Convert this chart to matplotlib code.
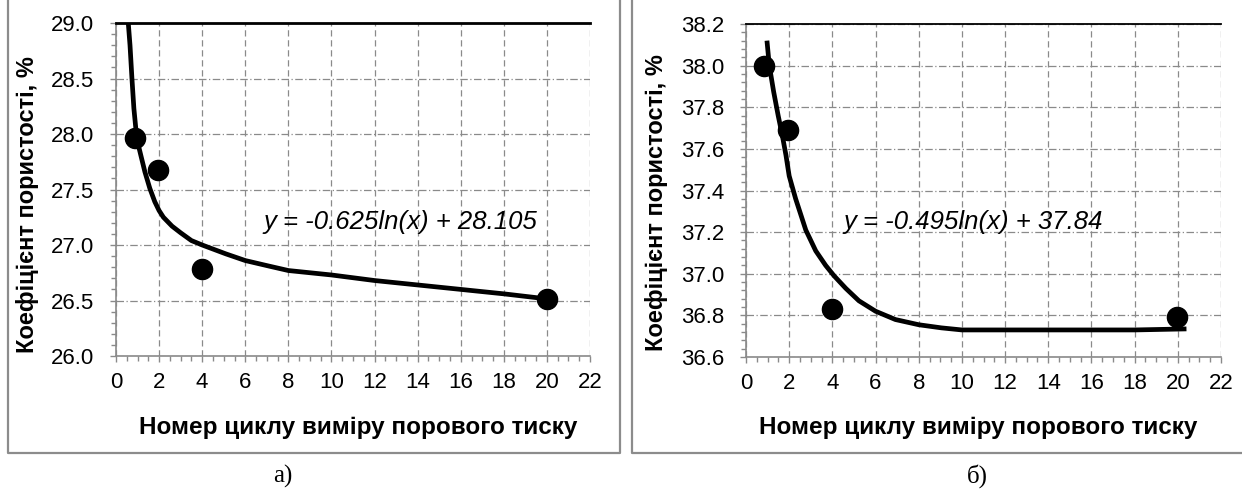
import numpy as np
import matplotlib.pyplot as plt
from matplotlib.lines import Line2D
from matplotlib.ticker import MultipleLocator

plt.rcParams['font.family'] = ['Liberation Sans', 'DejaVu Sans']

# а) вимірювані точки
x_a = [0.9, 1.97, 3.97, 20.0]
y_a = [27.96, 27.68, 26.78, 26.51]
# лінія тренду
trend_x_a = [0.57, 0.65, 0.74, 0.83, 0.92, 1.0, 1.15, 1.34, 1.57, 1.8, 2.0, 2.2, 2.6,
             3.0, 3.5, 4.0, 5.1, 6.0, 7.1, 8.0, 10.0, 12.0, 14.0, 16.0, 18.0, 20.2]
trend_y_a = [29.0, 28.8, 28.5, 28.23, 28.05, 27.93, 27.81, 27.66, 27.51, 27.39, 27.31, 27.25, 27.17,
             27.11, 27.04, 27.0, 26.92, 26.86, 26.81, 26.77, 26.73, 26.68, 26.64, 26.6, 26.56, 26.51]
eq_a = 'y = -0.625ln(x) + 28.105'

# б)
x_b = [0.85, 1.95, 4.0, 19.98]
y_b = [38.0, 37.69, 36.83, 36.79]
trend_x_b = [0.97, 1.08, 1.28, 1.49, 1.69, 1.85, 2.0, 2.3, 2.77, 3.23, 3.69, 4.08,
             4.62, 5.23, 6.0, 6.92, 8.0, 9.05, 10.0, 12.0, 14.0, 16.0, 18.0, 20.4]
trend_y_b = [38.12, 38.0, 37.875, 37.76, 37.66, 37.57, 37.47, 37.36, 37.21, 37.11, 37.04, 36.99,
             36.93, 36.87, 36.82, 36.78, 36.755, 36.74, 36.73, 36.73, 36.73, 36.73, 36.73, 36.735]
eq_b = 'y = -0.495ln(x) + 37.84'

xlabel = 'Номер циклу виміру порового тиску'
ylabel = 'Коефіцієнт пористості, %'

W, H = 1242, 490
fig = plt.figure(figsize=(W / 100, H / 100), dpi=100)


def px(x, y):
    return x / W, 1 - y / H


def setup_axes(rect, ylim, ymajor, yminor):
    ax = fig.add_axes(rect)
    ax.set_xlim(0, 22)
    ax.set_ylim(*ylim)
    ax.xaxis.set_major_locator(MultipleLocator(2))
    ax.xaxis.set_minor_locator(MultipleLocator(0.5))
    ax.yaxis.set_major_locator(MultipleLocator(ymajor))
    ax.yaxis.set_minor_locator(MultipleLocator(yminor))
    ax.yaxis.set_major_formatter(lambda v, p: f'{v:.1f}')
    ax.grid(axis='x', which='major', color='#8a8a8a', linestyle=(0, (5, 3)), linewidth=0.9)
    ax.grid(axis='y', which='major', color='#8a8a8a', linestyle=(0, (6, 2, 1, 2)), linewidth=0.9)
    ax.spines['right'].set_visible(False)
    ax.spines['top'].set_color('black')
    for s in ('left', 'bottom'):
        ax.spines[s].set_color('#8a8a8a')
        ax.spines[s].set_linewidth(1.2)
    ax.tick_params(which='both', direction='out', color='#8a8a8a', width=1.0)
    ax.tick_params(which='major', length=4.5, labelsize=16)
    ax.tick_params(which='minor', length=3.5)
    ax.tick_params(axis='x', pad=7)
    ax.tick_params(axis='y', pad=11)
    return ax


ax1 = setup_axes([116 / W, 1 - 356 / H, 474 / W, 333 / H], (26.0, 29.0), 0.5, 0.1)
ax1.spines['top'].set_linewidth(2.0)
ax1.plot(trend_x_a, trend_y_a, color='black', linewidth=3.4, solid_capstyle='butt',
         solid_joinstyle='round', zorder=3)
ax1.plot(x_a, y_a, 'o', color='black', markersize=14.5, zorder=4, clip_on=False)

ax2 = setup_axes([746 / W, 1 - 357 / H, 475 / W, 333 / H], (36.6, 38.2), 0.2, 0.04)
ax2.spines['top'].set_linewidth(1.3)
ax2.plot(trend_x_b, trend_y_b, color='black', linewidth=3.4, solid_capstyle='butt',
         solid_joinstyle='round', zorder=3)
ax2.plot(x_b, y_b, 'o', color='black', markersize=14.5, zorder=4, clip_on=False)

# рівняння трендів
fig.text(*px(400, 222), eq_a, fontsize=18.5, style='italic', ha='center', va='center')
fig.text(*px(973, 222), eq_b, fontsize=18.5, style='italic', ha='center', va='center')

# підписи осей
for cx, cy in ((28, 205), (656, 203)):
    fig.text(*px(cx, cy), ylabel, rotation=90, fontsize=17, fontweight='bold',
             ha='center', va='center')
for cx in (358, 978):
    fig.text(*px(cx, 427), xlabel, fontsize=17.5, fontweight='bold', ha='center', va='center')

# рамки панелей
frame = dict(color='#8c8c8c', linewidth=1.6, transform=fig.transFigure)
fig.add_artist(Line2D([8 / W, 8 / W, 620 / W, 620 / W], [1, 1 - 453 / H, 1 - 453 / H, 1], **frame))
fig.add_artist(Line2D([632 / W, 632 / W, 1], [1, 1 - 453 / H, 1 - 453 / H], **frame))

# підписи рисунків
fig.text(*px(283, 476), 'а)', fontsize=18, family='Liberation Serif', ha='center', va='center')
fig.text(*px(977, 476), 'б)', fontsize=18, family='Liberation Serif', ha='center', va='center')

fig.savefig('out.png', dpi=100)
